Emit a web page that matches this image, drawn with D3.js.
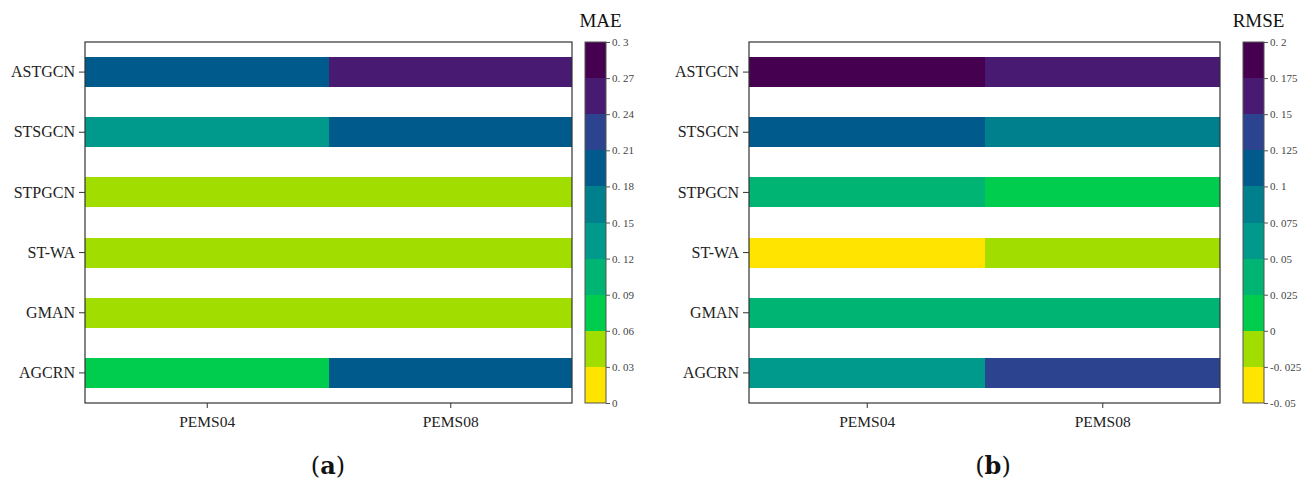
<!DOCTYPE html>
<html>
<head>
<meta charset="utf-8">
<script src="https://cdn.jsdelivr.net/npm/d3@7"></script>
<style>
  body { margin: 0; background: #fff; }
  svg { display: block; }
</style>
</head>
<body>
<svg id="chart" width="1311" height="483"></svg>
<script>
// Models (rows) and datasets (columns)
const models = ["ASTGCN", "STSGCN", "STPGCN", "ST-WA", "GMAN", "AGCRN"];
const datasets = ["PEMS04", "PEMS08"];

// MAE values per model
const maePems04 = [0.19, 0.13, 0.04, 0.04, 0.04, 0.07];
const maePems08 = [0.25, 0.19, 0.05, 0.04, 0.04, 0.20];

// RMSE values per model
const rmsePems04 = [0.19, 0.11, 0.04, -0.03, 0.04, 0.06];
const rmsePems08 = [0.16, 0.09, 0.01, -0.01, 0.04, 0.14];

// Colour bar ticks
const maeTicks = [0, 0.03, 0.06, 0.09, 0.12, 0.15, 0.18, 0.21, 0.24, 0.27, 0.3];
const rmseTicks = [-0.05, -0.025, 0, 0.025, 0.05, 0.075, 0.1, 0.125, 0.15, 0.175, 0.2];

// Ten-step palette, low to high
const palette = ["#ffe400", "#a2dd00", "#00cc4e", "#00b474", "#009a8c",
                 "#007f8c", "#005b8c", "#2c438f", "#481a72", "#450050"];

const svg = d3.select("#chart");
const serif = "'Liberation Serif', 'Times New Roman', serif";

function drawPanel(opts) {
  const { left, right, top, bottom, cbX, cbW, title, ticks, col0, col1, caption, capX } = opts;
  const g = svg.append("g");

  const x = d3.scaleBand().domain(datasets).range([left, right]).padding(0);
  const y = d3.scaleBand().domain(models).range([top, bottom]).paddingInner(0.5).paddingOuter(0.25);

  const color = d3.scaleQuantize()
    .domain([ticks[0], ticks[ticks.length - 1]])
    .range(palette);

  const cells = [];
  models.forEach((m, i) => {
    cells.push({ model: m, ds: datasets[0], v: col0[i] });
    cells.push({ model: m, ds: datasets[1], v: col1[i] });
  });

  g.selectAll("rect.cell").data(cells).join("rect")
    .attr("class", "cell")
    .attr("x", d => x(d.ds))
    .attr("y", d => y(d.model))
    .attr("width", x.bandwidth())
    .attr("height", y.bandwidth())
    .attr("fill", d => color(d.v))
    .attr("shape-rendering", "crispEdges");

  // frame
  g.append("rect")
    .attr("x", left).attr("y", top)
    .attr("width", right - left).attr("height", bottom - top)
    .attr("fill", "none").attr("stroke", "#333").attr("stroke-width", 1.2);

  // y axis
  const yAxis = g.append("g").attr("transform", `translate(${left},0)`)
    .call(d3.axisLeft(y).tickSize(6).tickPadding(4).tickSizeOuter(0));
  yAxis.select(".domain").remove();
  yAxis.selectAll("line").attr("stroke", "#333");
  yAxis.selectAll("text")
    .attr("font-family", serif)
    .attr("font-size", 16).attr("fill", "#222");

  // x axis with ticks at column centres
  const xc = d3.scalePoint().domain(datasets).range([left + x.bandwidth() / 2, right - x.bandwidth() / 2]);
  const xAxis = g.append("g").attr("transform", `translate(0,${bottom})`)
    .call(d3.axisBottom(xc).tickSize(5).tickSizeOuter(0));
  xAxis.select(".domain").remove();
  xAxis.selectAll("line").attr("stroke", "#333");
  xAxis.selectAll("text")
    .attr("font-family", serif)
    .attr("font-size", 15.5).attr("fill", "#222").attr("dy", "1.05em");

  // colour bar
  const cb = d3.scaleLinear().domain([ticks[0], ticks[ticks.length - 1]]).range([bottom, top]);
  const steps = d3.range(palette.length).map(i => [ticks[i], ticks[i + 1]]);
  g.selectAll("rect.cb").data(steps).join("rect")
    .attr("class", "cb")
    .attr("x", cbX)
    .attr("y", d => cb(d[1]))
    .attr("width", cbW)
    .attr("height", d => cb(d[0]) - cb(d[1]))
    .attr("fill", d => color((d[0] + d[1]) / 2))
    .attr("shape-rendering", "crispEdges");
  g.append("rect")
    .attr("x", cbX).attr("y", top).attr("width", cbW).attr("height", bottom - top)
    .attr("fill", "none").attr("stroke", "#555").attr("stroke-width", 1);

  const cbAxis = g.append("g").attr("transform", `translate(${cbX + cbW},0)`)
    .call(d3.axisRight(cb).tickValues(ticks).tickSize(4).tickSizeOuter(0)
      .tickFormat(d => String(+d.toFixed(3)).replace(".", ". ")));
  cbAxis.select(".domain").remove();
  cbAxis.selectAll("line").attr("stroke", "#555");
  cbAxis.selectAll("text")
    .attr("font-family", serif)
    .attr("font-size", 11).attr("fill", "#444").attr("dx", "-1");

  g.append("text")
    .attr("x", cbX + cbW / 2 + 5).attr("y", 27)
    .attr("text-anchor", "middle")
    .attr("font-family", serif)
    .attr("font-size", 19).attr("fill", "#111")
    .text(title);

  // panel caption
  const cap = g.append("text")
    .attr("x", capX).attr("y", 474)
    .attr("text-anchor", "middle")
    .attr("font-family", "'DejaVu Serif', 'Liberation Serif', serif")
    .attr("font-size", 24).attr("fill", "#111");
  cap.append("tspan").text("(");
  cap.append("tspan").attr("font-weight", "bold").text(caption);
  cap.append("tspan").text(")");
}

drawPanel({
  left: 85, right: 572, top: 42, bottom: 403,
  cbX: 585, cbW: 21, title: "MAE", ticks: maeTicks,
  col0: maePems04, col1: maePems08, caption: "a", capX: 328
});

drawPanel({
  left: 749, right: 1220, top: 42, bottom: 403,
  cbX: 1243, cbW: 21, title: "RMSE", ticks: rmseTicks,
  col0: rmsePems04, col1: rmsePems08, caption: "b", capX: 993
});
</script>
</body>
</html>
